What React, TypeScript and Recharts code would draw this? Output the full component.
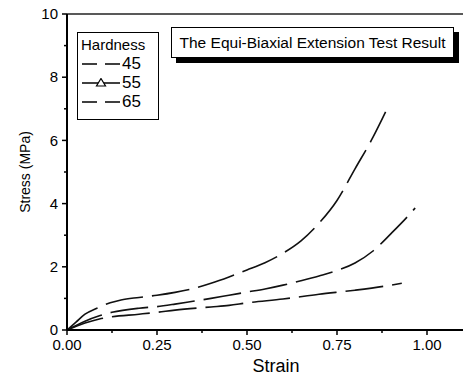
import React from "react";
import { LineChart, Line, XAxis, YAxis, ReferenceLine } from "recharts";

// Hardness 45 (lowest curve)
const strain45 = [0, 0.05, 0.09, 0.12, 0.2, 0.25, 0.3, 0.4, 0.45, 0.5, 0.6, 0.7, 0.8, 0.9, 0.93];
const stress45 = [0, 0.22, 0.35, 0.41, 0.5, 0.56, 0.63, 0.73, 0.78, 0.86, 0.98, 1.13, 1.26, 1.42, 1.48];

// Hardness 55 (middle curve)
const strain55 = [0, 0.05, 0.09, 0.125, 0.2, 0.25, 0.3, 0.35, 0.4, 0.45, 0.5, 0.55, 0.6, 0.65, 0.7, 0.75, 0.8, 0.85, 0.9, 0.95, 0.967];
const stress55 = [0, 0.28, 0.45, 0.56, 0.69, 0.74, 0.82, 0.91, 1.0, 1.1, 1.2, 1.3, 1.42, 1.56, 1.71, 1.88, 2.12, 2.5, 3.05, 3.64, 3.86];

// Hardness 65 (top curve)
const strain65 = [0, 0.025, 0.05, 0.083, 0.12, 0.15, 0.2, 0.25, 0.3, 0.35, 0.4, 0.45, 0.5, 0.55, 0.6, 0.65, 0.7, 0.75, 0.8, 0.85, 0.885];
const stress65 = [0, 0.25, 0.5, 0.69, 0.86, 0.95, 1.03, 1.1, 1.19, 1.31, 1.48, 1.68, 1.9, 2.13, 2.43, 2.82, 3.38, 4.1, 5.1, 6.1, 6.9];

const xTicks = [0, 0.125, 0.25, 0.375, 0.5, 0.625, 0.75, 0.875, 1.0];
const yTicks = [0, 1, 2, 3, 4, 5, 6, 7, 8, 9, 10];
const legendLabels = ["45", "55", "65"];

const zip = (xs: number[], ys: number[]) => xs.map((x, i) => ({ strain: x, stress: ys[i] }));

const FONT = "'Liberation Sans', Arial, sans-serif";
const DASH = "38 9";

const XTick = (props: any) => {
  const { x, y, payload } = props;
  const v = payload.value as number;
  const major = Math.abs(v * 4 - Math.round(v * 4)) < 1e-6;
  return (
    <g>
      <line x1={x} y1={y} x2={x} y2={y + (major ? 5 : 3)} stroke="#000" strokeWidth={1.5} />
      {major && (
        <text x={x} y={y + 20} textAnchor="middle" fontSize={15} fontFamily={FONT} fill="#000">
          {v.toFixed(2)}
        </text>
      )}
    </g>
  );
};

const YTick = (props: any) => {
  const { x, y, payload } = props;
  const v = payload.value as number;
  const major = v % 2 === 0;
  return (
    <g>
      <line x1={x} y1={y} x2={x - (major ? 5 : 3)} y2={y} stroke="#000" strokeWidth={1.5} />
      {major && (
        <text x={x - 9} y={y} dy="0.35em" textAnchor="end" fontSize={15} fontFamily={FONT} fill="#000">
          {v}
        </text>
      )}
    </g>
  );
};

const YLabel = (props: any) => {
  const { viewBox } = props;
  const cx = viewBox.x + 25;
  const cy = viewBox.y + viewBox.height / 2;
  return (
    <text x={cx} y={cy} transform={`rotate(-90 ${cx} ${cy})`} textAnchor="middle" dy="0.35em" fontSize={14} fontFamily={FONT} fill="#000">
      Stress (MPa)
    </text>
  );
};

const XLabel = (props: any) => {
  const { viewBox } = props;
  return (
    <text x={viewBox.x + viewBox.width / 2 + 11} y={viewBox.y + 42} textAnchor="middle" fontSize={18} fontFamily={FONT} fill="#000">
      Strain
    </text>
  );
};

const LegendSymbol = ({ marker }: { marker: boolean }) => (
  <svg width={40} height={10} style={{ display: "block" }}>
    {marker ? (
      <>
        <line x1={1} y1={5} x2={39} y2={5} stroke="#000" strokeWidth={1.5} />
        <polygon points="20,0.5 24.5,8 15.5,8" fill="#fff" stroke="#000" strokeWidth={1.2} />
      </>
    ) : (
      <line x1={1} y1={5} x2={39} y2={5} stroke="#000" strokeWidth={1.5} strokeDasharray="15 8" />
    )}
  </svg>
);

export default function App() {
  return (
    <div style={{ position: "absolute", left: 0, top: 0, width: 465, height: 378, background: "#fff", fontFamily: FONT }}>
      <LineChart width={465} height={378} margin={{ top: 14, right: 2, left: 0, bottom: 0 }}>
        <XAxis
          type="number"
          dataKey="strain"
          domain={[0, 1.1]}
          ticks={xTicks}
          interval={0}
          height={48}
          tickSize={0}
          tickMargin={0}
          tick={<XTick />}
          axisLine={{ stroke: "#000", strokeWidth: 2 }}
          allowDataOverflow
          label={<XLabel />}
        />
        <YAxis
          type="number"
          dataKey="stress"
          domain={[0, 10]}
          ticks={yTicks}
          interval={0}
          width={67}
          tickSize={0}
          tickMargin={0}
          tick={<YTick />}
          axisLine={{ stroke: "#000", strokeWidth: 2 }}
          label={<YLabel />}
        />
        <ReferenceLine y={10} stroke="#222" strokeWidth={1.5} />
        <Line data={zip(strain45, stress45)} dataKey="stress" type="monotone" stroke="#111" strokeWidth={1.6} strokeDasharray={DASH} dot={false} isAnimationActive={false} />
        <Line data={zip(strain55, stress55)} dataKey="stress" type="monotone" stroke="#111" strokeWidth={1.6} strokeDasharray={DASH} dot={false} isAnimationActive={false} />
        <Line data={zip(strain65, stress65)} dataKey="stress" type="monotone" stroke="#111" strokeWidth={1.6} strokeDasharray={DASH} dot={false} isAnimationActive={false} />
      </LineChart>

      <div
        style={{
          position: "absolute",
          left: 77,
          top: 32,
          width: 82,
          height: 88,
          border: "1.5px solid #000",
          background: "#fff",
          padding: "3px 0 0 3px",
          boxSizing: "border-box",
          color: "#000",
        }}
      >
        <div style={{ fontSize: 15, lineHeight: "18px" }}>Hardness</div>
        {legendLabels.map((lab, i) => (
          <div key={lab} style={{ display: "flex", alignItems: "center", height: 19 }}>
            <LegendSymbol marker={i === 1} />
            <span style={{ fontSize: 17, lineHeight: "19px", marginLeft: 1 }}>{lab}</span>
          </div>
        ))}
      </div>

      <div
        style={{
          position: "absolute",
          left: 171,
          top: 27,
          width: 283,
          height: 31,
          border: "1.5px solid #000",
          background: "#fff",
          boxShadow: "5px 5px 0 #000",
          boxSizing: "border-box",
          display: "flex",
          alignItems: "center",
          justifyContent: "center",
          fontSize: 15.5,
          color: "#000",
        }}
      >
        The Equi-Biaxial Extension Test Result
      </div>
    </div>
  );
}
